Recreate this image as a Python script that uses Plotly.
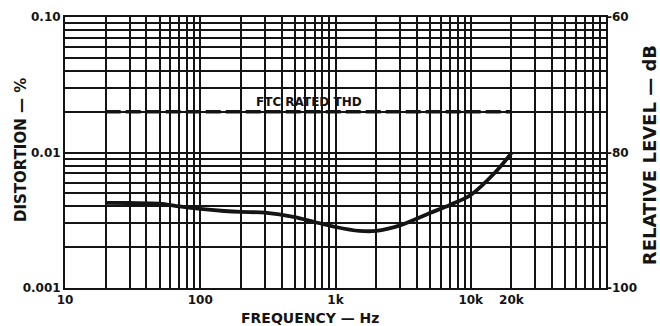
import math
import plotly.graph_objects as go

# ---- data ----
freq_hz = [20, 30, 50, 70, 100, 150, 200, 300, 500, 700, 1000, 1500, 2000,
           3000, 5000, 7000, 10000, 15000, 20000]
thd_pct = [0.00425, 0.00424, 0.0042, 0.0040, 0.00383, 0.0037, 0.00364, 0.0036,
           0.00334, 0.00307, 0.00282, 0.00264, 0.00264, 0.0029, 0.00358, 0.0041,
           0.00486, 0.00706, 0.0099]
ftc_freq = [20, 20000]
ftc_thd = [0.02, 0.02]
x_tickvals = [10, 100, 1000, 10000, 20000]
x_ticktext = ["10", "100", "1k", "10k", "20k"]
y_tickvals = [0.001, 0.01, 0.1]
y_ticktext = ["0.001", "0.01", "0.10"]
y2_tickvals = [-100, -80, -60]
y2_ticktext = ["-100", "-80", "-60"]

INK = "#141414"
FONT = "DejaVu Sans"

fig = go.Figure()
fig.add_trace(go.Scatter(x=ftc_freq, y=ftc_thd, mode="lines",
                         line=dict(color=INK, width=3.5, dash="15px,5px"),
                         hoverinfo="skip", showlegend=False))
fig.add_trace(go.Scatter(x=freq_hz, y=thd_pct, mode="lines",
                         line=dict(color=INK, width=3.8, shape="spline", smoothing=0.8),
                         showlegend=False))
# invisible trace to activate right axis
fig.add_trace(go.Scatter(x=[10, 100000], y=[-100, -60], yaxis="y2", mode="lines",
                         line=dict(width=0), hoverinfo="skip", showlegend=False))

tickfont = dict(family=FONT, size=12, color=INK, weight="bold")
grid = dict(showgrid=True, gridcolor=INK, gridwidth=1.6)
minor = dict(dtick="D1", showgrid=True, gridcolor=INK, gridwidth=1.5, ticks="")

fig.update_layout(
    width=660, height=326,
    margin=dict(l=65, r=54, t=17, b=38, autoexpand=False),
    paper_bgcolor="white", plot_bgcolor="white",
    xaxis=dict(type="log", range=[1, 5], tickvals=x_tickvals, ticktext=x_ticktext,
               **grid, automargin=False,
               showline=True, linecolor=INK, linewidth=2, mirror=True,
               ticks="", tickfont=tickfont, zeroline=False, minor=minor),
    yaxis=dict(type="log", range=[-3, -1], tickvals=y_tickvals, ticktext=y_ticktext,
               **grid, automargin=False,
               showline=True, linecolor=INK, linewidth=2, mirror=True,
               ticks="", tickfont=tickfont, zeroline=False, minor=minor),
    yaxis2=dict(overlaying="y", side="right", range=[-100, -60], automargin=False,
                tickvals=y2_tickvals, ticktext=y2_ticktext, showgrid=False,
                zeroline=False, ticks="", tickfont=tickfont, showline=False),
    annotations=[
        dict(text="FTC RATED THD", x=math.log10(640), y=math.log10(0.0235),
             xref="x", yref="y", showarrow=False,
             font=dict(family=FONT, size=12, color=INK, weight="bold")),
        dict(text="FREQUENCY — Hz", x=0.453, y=0, xref="paper", yref="paper",
             yshift=-30, showarrow=False, xanchor="center", yanchor="middle",
             font=dict(family=FONT, size=14, color=INK, weight="bold")),
        dict(text="DISTORTION — %", x=0, y=0.509, xref="paper", yref="paper",
             xshift=-44, textangle=-90, showarrow=False,
             xanchor="center", yanchor="middle",
             font=dict(family=FONT, size=15, color=INK, weight="bold")),
        dict(text="RELATIVE LEVEL — dB", x=1, y=0.49, xref="paper", yref="paper",
             xshift=43, textangle=-90, showarrow=False,
             xanchor="center", yanchor="middle",
             font=dict(family=FONT, size=18, color=INK, weight="bold")),
    ],
)

fig.write_html("out.html", config={"displayModeBar": False},
               post_script="document.body.style.margin='0px';document.body.style.overflow='hidden';")
